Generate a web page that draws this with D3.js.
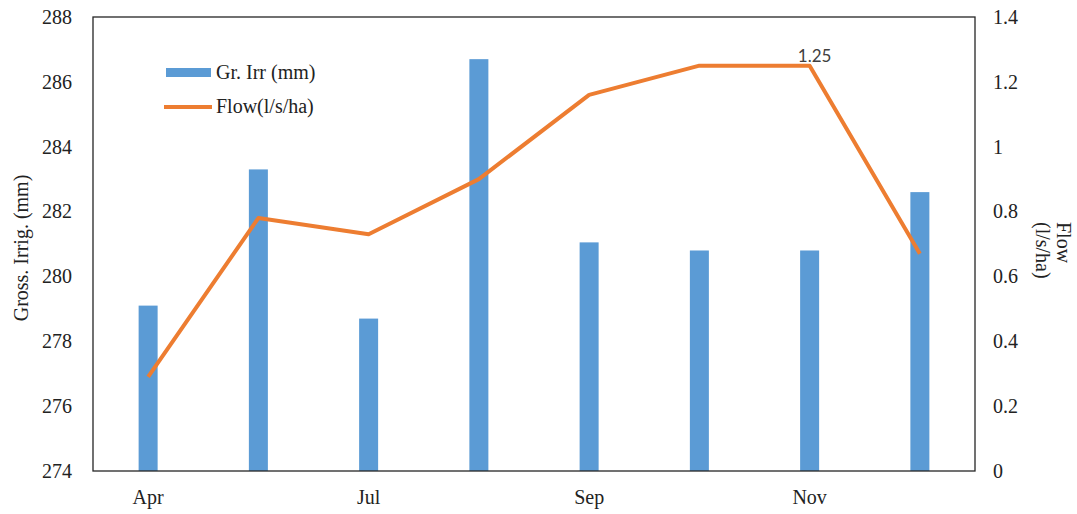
<!DOCTYPE html>
<html>
<head>
<meta charset="utf-8">
<script src="https://cdn.jsdelivr.net/npm/d3@7"></script>
<style>
  html, body { margin: 0; padding: 0; background: #fff; }
  svg { display: block; }
  .serif { font-family: "Liberation Serif", Tinos, "Times New Roman", "DejaVu Serif", serif; }
</style>
</head>
<body>
<svg id="chart" width="1077" height="514"></svg>
<script>
// Monthly gross irrigation (bars, left axis) and flow (line, right axis)
const months = ["Apr", "May", "Jul", "Aug", "Sep", "Oct", "Nov", "Dec"];
const monthLabels = ["Apr", "", "Jul", "", "Sep", "", "Nov", ""];
const grossIrr = [279.1, 283.3, 278.7, 286.7, 281.05, 280.8, 280.8, 282.6];
const flow = [0.29, 0.78, 0.73, 0.90, 1.16, 1.25, 1.25, 0.67];
const leftTicks = [274, 276, 278, 280, 282, 284, 286, 288];
const rightTicks = [0, 0.2, 0.4, 0.6, 0.8, 1, 1.2, 1.4];
const labelledIndex = 6; // point carrying a value label

const svg = d3.select("#chart");
const m = { left: 93, right: 975, top: 17, bottom: 471 };

const barColor = "#5B9BD5";
const lineColor = "#ED7D31";
const textColor = "#222";

const x = d3.scaleBand().domain(months).range([m.left, m.right]).paddingInner(0).paddingOuter(0);
const yL = d3.scaleLinear().domain([274, 288]).range([m.bottom, m.top]);
const yR = d3.scaleLinear().domain([0, 1.4]).range([m.bottom, m.top]);

const barW = 19;

// bars
svg.append("g").selectAll("rect")
  .data(grossIrr)
  .join("rect")
  .attr("x", (d, i) => x(months[i]) + x.bandwidth() / 2 - barW / 2)
  .attr("y", d => yL(d))
  .attr("width", barW)
  .attr("height", d => yL(274) - yL(d))
  .attr("fill", barColor);

// flow line
const line = d3.line()
  .x((d, i) => x(months[i]) + x.bandwidth() / 2)
  .y(d => yR(d));
svg.append("path")
  .datum(flow)
  .attr("d", line)
  .attr("fill", "none")
  .attr("stroke", lineColor)
  .attr("stroke-width", 4)
  .attr("stroke-linejoin", "round");

// value label
svg.append("text")
  .attr("x", x(months[labelledIndex]) + x.bandwidth() / 2 + 5)
  .attr("y", yR(flow[labelledIndex]) - 4)
  .attr("text-anchor", "middle")
  .attr("font-family", "Lato, 'Open Sans', sans-serif")
  .attr("font-size", 17)
  .attr("fill", "#404040")
  .text(flow[labelledIndex].toFixed(2));

// frame
svg.append("rect")
  .attr("x", m.left).attr("y", m.top)
  .attr("width", m.right - m.left).attr("height", m.bottom - m.top)
  .attr("fill", "none").attr("stroke", "#262626").attr("stroke-width", 1.3);

function styleAxisText(g) {
  g.attr("font-family", null);
  g.selectAll("text")
    .attr("class", "serif")
    .attr("font-size", 20)
    .attr("fill", textColor);
}

// left axis
const axL = svg.append("g")
  .attr("transform", `translate(${m.left},0)`)
  .call(d3.axisLeft(yL).tickValues(leftTicks).tickSize(0).tickPadding(21).tickFormat(d3.format("d")));
axL.select(".domain").remove();
styleAxisText(axL);

// right axis
const axR = svg.append("g")
  .attr("transform", `translate(${m.right},0)`)
  .call(d3.axisRight(yR).tickValues(rightTicks).tickSize(0).tickPadding(18).tickFormat(d => String(+d.toFixed(1))));
axR.select(".domain").remove();
styleAxisText(axR);

// bottom axis
const axB = svg.append("g")
  .attr("transform", `translate(0,${m.bottom})`)
  .call(d3.axisBottom(x).tickSize(0).tickPadding(19).tickFormat((d, i) => monthLabels[i]));
axB.select(".domain").remove();
styleAxisText(axB);

// axis titles
svg.append("text")
  .attr("class", "serif")
  .attr("transform", `translate(28,${(m.top + m.bottom) / 2 + 4}) rotate(-90)`)
  .attr("text-anchor", "middle")
  .attr("font-size", 20).attr("fill", textColor)
  .text("Gross. Irrig. (mm)");

const rt = svg.append("text")
  .attr("class", "serif")
  .attr("transform", `translate(1057,222) rotate(90)`)
  .attr("font-size", 20).attr("fill", textColor);
rt.append("tspan").attr("x", 0).attr("y", 0).text("Flow");
rt.append("tspan").attr("x", 0).attr("y", 21).text("(l/s/ha)");

// legend
const lg = svg.append("g");
lg.append("rect").attr("x", 166).attr("y", 68).attr("width", 45).attr("height", 9).attr("fill", barColor);
lg.append("text").attr("class", "serif").attr("x", 216).attr("y", 79)
  .attr("font-size", 20).attr("fill", textColor).text("Gr. Irr (mm)");
lg.append("line").attr("x1", 164).attr("x2", 212).attr("y1", 107).attr("y2", 107)
  .attr("stroke", lineColor).attr("stroke-width", 4);
lg.append("text").attr("class", "serif").attr("x", 216).attr("y", 113)
  .attr("font-size", 20).attr("fill", textColor).text("Flow(l/s/ha)");
</script>
</body>
</html>
